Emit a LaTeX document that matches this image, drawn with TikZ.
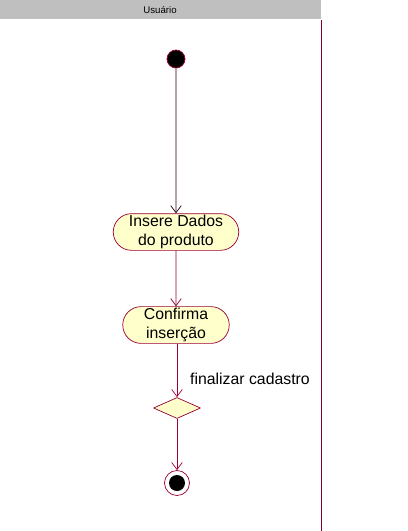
\documentclass[tikz,border=0pt]{standalone}
\usepackage{fontspec}
\setmainfont{Liberation Sans}
\usetikzlibrary{shapes.geometric,shapes.misc,arrows.meta}
\definecolor{umlred}{HTML}{990033}
\definecolor{umlfill}{HTML}{FFFFCC}
\tikzset{
	activity/.style={draw=umlred,fill=umlfill,rounded rectangle,minimum height=36*0.02cm,align=center,inner sep=1pt,font=\fontsize{9}{10.5}\selectfont},
	flow/.style={draw=umlred,-{Straight Barb[length=4pt,width=6pt]}},
	decision/.style={draw=umlred,fill=umlfill,diamond,aspect=2.2,minimum width=47*0.02cm,minimum height=21*0.02cm,inner sep=0pt}
}
\begin{document}
\begin{tikzpicture}[x=0.02cm,y=-0.02cm,line join=round]
		\useasboundingbox (0,0) rectangle (407,531);
		% raia
		\fill[gray!50] (0,0) rectangle (321,19);
		\node[font=\fontsize{5.5}{6}\selectfont] (raia) at (160,10) {Usuário};
		\draw[umlred!85!black,line width=0.5pt] (321,20)--(321,531);
		% nos
		\node[circle,fill=black,draw=umlred,minimum size=18*0.02cm,inner sep=0pt] (inicio) at (176,59) {};
		\node[activity,minimum width=129*0.02cm] (insere) at (176,232) {Insere Dados\\do produto};
		\node[activity,minimum width=110*0.02cm] (confirma) at (176,325) {Confirma\\inserção};
		\node[decision] (decisao) at (177,408) {};
		\node[circle,draw=umlred,fill=white,minimum size=25*0.02cm,inner sep=0pt] (fim) at (177,483) {};
		\fill[black] (fim.center) circle (8);
		% transicoes
		\draw[flow,draw=black!70!umlred] (inicio)--(insere);
		\draw[flow] (insere)--(confirma);
		\draw[flow] (confirma.south-|decisao)--(decisao) node[pos=0.65,right=4pt,font=\fontsize{9}{10.5}\selectfont] {finalizar cadastro};
		\draw[flow] (decisao)--(fim);
\end{tikzpicture}
\end{document}
